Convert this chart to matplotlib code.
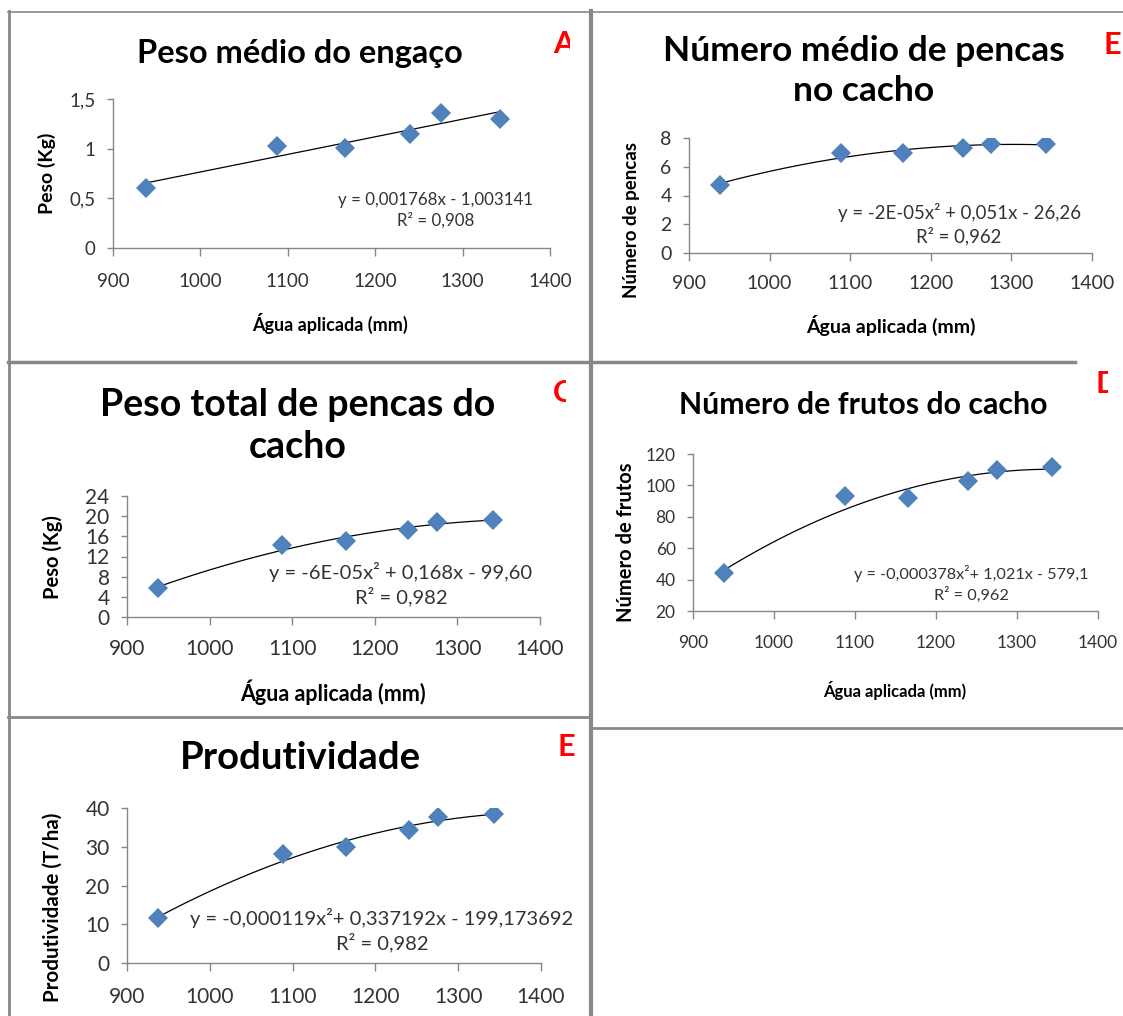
import numpy as np
import matplotlib
matplotlib.use("Agg")
import matplotlib.pyplot as plt
from matplotlib.transforms import Bbox, TransformedBbox

plt.rcParams['font.family'] = ['Lato', 'DejaVu Sans']

# data
agua = [938, 1088, 1165, 1240, 1275, 1343]
peso_engaco = [0.60, 1.03, 1.01, 1.15, 1.36, 1.30]
num_pencas = [4.75, 6.95, 6.95, 7.30, 7.60, 7.60]
peso_pencas = [5.8, 14.2, 15.1, 17.3, 18.8, 19.3]
num_frutos = [44, 93, 92, 102.5, 110, 112]
produtividade = [11.5, 28.2, 30.0, 34.2, 37.7, 38.5]

titles = ["Peso médio do engaço", "Número médio de pencas\nno cacho",
          "Peso total de pencas do\ncacho", "Número de frutos do cacho",
          "Produtividade"]
ylabels = ["Peso (Kg)", "Número de pencas", "Peso (Kg)", "Número de frutos",
           "Produtividade (T/ha)"]
xlabel = "Água aplicada (mm)"
equations = ["y = 0,001768x - 1,003141\nR² = 0,908",
             "y = -2E-05x² + 0,051x - 26,26\nR² = 0,962",
             "y = -6E-05x² + 0,168x - 99,60\nR² = 0,982",
             "y = -0,000378x²+ 1,021x - 579,1\nR² = 0,962",
             "y = -0,000119x²+ 0,337192x - 199,173692\nR² = 0,982"]
letters = ["A", "E", "C", "D", "E"]
yticks = [[0, 0.5, 1, 1.5], [0, 2, 4, 6, 8], [0, 4, 8, 12, 16, 20, 24],
          [20, 40, 60, 80, 100, 120], [0, 10, 20, 30, 40]]
ytick_labels = [["0", "0,5", "1", "1,5"], None, None, None, None]
series = [peso_engaco, num_pencas, peso_pencas, num_frutos, produtividade]
degree = [1, 2, 2, 2, 2]

W, H = 1123, 1016
fig = plt.figure(figsize=(W / 100, H / 100), dpi=100)

def fx(x):
    return x / W

def fy(y):
    return 1 - y / H

# layout in pixels (axes l, r, top, bottom; text anchors) and font sizes per panel
layout = [
    dict(ax=(113, 550, 99, 248), title=(300, 53, 23.5), ylab=(47, 173, 14), xlab=(330, 323, 13),
         eq=(436, 210, 12.2), let=(553, 44, 570), pad=12, tick=13.5),
    dict(ax=(689, 1092, 138, 253), title=(864, 71, 25.5), ylab=(632, 220, 13.5), xlab=(891, 325, 14),
         eq=(959, 224, 13.4), let=(1103, 45, None), pad=9.5, tick=14),
    dict(ax=(127, 540, 496, 617), title=(298, 426, 27), ylab=(53, 557, 14.5), xlab=(333, 692, 15.5),
         eq=(401, 584, 14.5), let=(553, 393, 566), pad=10, tick=15),
    dict(ax=(693, 1098, 454, 611), title=(863, 405, 21.8), ylab=(626, 542, 14.5), xlab=(895, 690, 12),
         eq=(971, 584, 11.7), let=(1096, 384, 1108), pad=11.5, tick=12.5),
    dict(ax=(127, 541, 808, 963), title=(300, 758, 27.5), ylab=(53, 907, 14.8), xlab=None,
         eq=(382, 930, 14.5), let=(557, 747, None), pad=11, tick=15),
]

grey = "#868686"
tick_col = "#333333"

# panel frames
frame = "#888888"
fig.add_artist(plt.Line2D([fx(8), fx(1123)], [fy(11.5)] * 2, color=frame, lw=1.2))
fig.add_artist(plt.Line2D([fx(9)] * 2, [fy(11), fy(1016)], color=frame, lw=2))
fig.add_artist(plt.Line2D([fx(590.5)] * 2, [fy(11), fy(1016)], color=frame, lw=3))
fig.add_artist(plt.Line2D([fx(8), fx(1075)], [fy(362)] * 2, color=frame, lw=2.5))
fig.add_artist(plt.Line2D([fx(8), fx(590)], [fy(717)] * 2, color=frame, lw=2))
fig.add_artist(plt.Line2D([fx(590), fx(1123)], [fy(728)] * 2, color=frame, lw=2))

for i, lay in enumerate(layout):
    l, r, t, b = lay['ax']
    ax = fig.add_axes([fx(l), fy(b), (r - l) / W, (b - t) / H])
    y = series[i]
    ax.plot(agua, y, 'D', color="#4F81BD", markersize=10, markeredgewidth=0, zorder=3)
    coef = np.polyfit(agua, y, degree[i])
    xs = np.linspace(min(agua), max(agua), 200)
    ax.plot(xs, np.polyval(coef, xs), color="black", lw=0.9, zorder=2)

    ax.set_xlim(900, 1400)
    ax.set_ylim(yticks[i][0], yticks[i][-1])
    ax.set_xticks(range(900, 1401, 100))
    ax.set_yticks(yticks[i])
    if ytick_labels[i]:
        ax.set_yticklabels(ytick_labels[i])
    for s in ['top', 'right']:
        ax.spines[s].set_visible(False)
    for s in ['left', 'bottom']:
        ax.spines[s].set_color(grey)
        ax.spines[s].set_linewidth(1)
    ax.tick_params(axis='x', direction='out', length=6, width=1, color=grey,
                   labelsize=lay['tick'], labelcolor=tick_col, pad=lay['pad'])
    ax.tick_params(axis='y', direction='out', length=4.5, width=1, color=grey,
                   labelsize=lay['tick'], labelcolor=tick_col, pad=8)
    ax.patch.set_alpha(0)

    tx, ty, ts = lay['title']
    fig.text(fx(tx), fy(ty), titles[i], ha='center', va='center', fontsize=ts,
             fontweight='bold', linespacing=1.3)
    yx, yy, ys = lay['ylab']
    fig.text(fx(yx), fy(yy), ylabels[i], rotation=90,
             ha='center', va='center', fontsize=ys, fontweight='bold')
    if lay['xlab']:
        xx, xy, xsz = lay['xlab']
        fig.text(fx(xx), fy(xy), xlabel, ha='center',
                 va='center', fontsize=xsz, fontweight='bold')
    ex, ey, es = lay['eq']
    fig.text(fx(ex), fy(ey), equations[i], ha='center',
             va='center', fontsize=es, color="#333333", linespacing=1.3)

    lx, ly, clip = lay['let']
    lt = fig.text(fx(lx), fy(ly), letters[i], ha='left', va='center', fontsize=22,
                  fontweight='bold', color="#FF0000")
    if clip:
        lt.set_clip_box(TransformedBbox(Bbox([[fx(lx - 5), fy(ly + 30)],
                                              [fx(clip), fy(ly - 30)]]),
                                        fig.transFigure))
        lt.set_clip_on(True)

fig.savefig("out.png", dpi=100, facecolor="white")
